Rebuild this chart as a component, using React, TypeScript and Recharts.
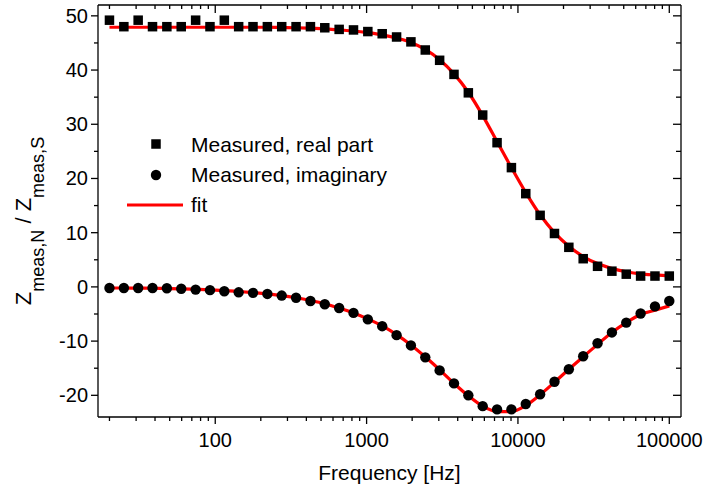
import React from 'react';
import { ComposedChart, XAxis, YAxis, Scatter, Line, ReferenceLine, Customized } from 'recharts';

const FONT = '"Liberation Sans", Arial, sans-serif';

const freq = [20, 24.9, 30.95, 38.5, 47.9, 59.6, 74.2, 92.3, 114.8, 142.8, 177.6, 221, 274.9, 342, 425.6, 529.4, 658.7, 819.4, 1019, 1268, 1578, 1963, 2442, 3038, 3780, 4702, 5850, 7278, 9055, 11265, 14014, 17435, 21691, 26986, 33573, 41768, 51963, 64647, 80428, 100000];

const realPart = [49.2, 48.0, 49.2, 48.0, 48.0, 48.0, 49.2, 48.0, 49.2, 48.0, 48.0, 48.0, 48.0, 48.0, 48.0, 47.8, 47.5, 47.4, 47.1, 46.7, 46.1, 45.2, 43.7, 41.8, 39.2, 35.8, 31.7, 26.6, 22.0, 17.2, 13.2, 9.85, 7.3, 5.2, 3.8, 2.9, 2.35, 2.0, 2.0, 2.0];

const imagPart = [-0.2, -0.2, -0.2, -0.2, -0.25, -0.35, -0.5, -0.6, -0.8, -1.0, -1.1, -1.3, -1.6, -2.0, -2.6, -3.2, -3.9, -4.8, -6.0, -7.25, -8.9, -10.8, -13.0, -15.4, -17.8, -20.0, -22.0, -22.6, -22.6, -21.6, -19.8, -17.5, -15.2, -12.8, -10.4, -8.4, -6.6, -4.9, -3.6, -2.6];

const realFit = [47.9, 47.9, 47.9, 47.9, 47.9, 47.9, 47.9, 47.9, 47.9, 47.9, 47.9, 47.9, 47.85, 47.8, 47.7, 47.6, 47.4, 47.2, 46.9, 46.5, 45.9, 45.1, 43.8, 41.9, 39.3, 35.9, 31.6, 26.8, 22.0, 17.4, 13.3, 10.0, 7.5, 5.6, 4.3, 3.4, 2.8, 2.4, 2.2, 2.05];

const imagFit = [-0.2, -0.2, -0.22, -0.25, -0.3, -0.35, -0.45, -0.55, -0.7, -0.85, -1.05, -1.3, -1.6, -2.0, -2.5, -3.1, -3.9, -4.8, -5.9, -7.2, -8.8, -10.7, -12.9, -15.3, -17.8, -20.1, -22.0, -23.0, -23.0, -21.9, -19.9, -17.6, -15.2, -12.9, -10.6, -8.4, -6.6, -5.1, -4.3, -3.5];

const xMajor = [100, 1000, 10000, 100000];
const xTicks = [20, 30, 40, 50, 60, 70, 80, 90, 100, 200, 300, 400, 500, 600, 700, 800, 900, 1000, 2000, 3000, 4000, 5000, 6000, 7000, 8000, 9000, 10000, 20000, 30000, 40000, 50000, 60000, 70000, 80000, 90000, 100000];
const yMajor = [-20, -10, 0, 10, 20, 30, 40, 50];
const yTicks = [-20, -15, -10, -5, 0, 5, 10, 15, 20, 25, 30, 35, 40, 45, 50];
const xDomain = [16.8, 119500];
const yDomain = [-24, 52];

const legendLabels = ['Measured, real part', 'Measured, imaginary', 'fit'];
const xTitle = 'Frequency [Hz]';

const data = freq.map((f, i) => ({ f, re: realPart[i], im: imagPart[i], reFit: realFit[i], imFit: imagFit[i] }));

const W = 707;
const H = 495;
const X_AXIS_H = 78;
const Y_AXIS_W = 98;
const MARGIN = { top: 5, right: 26, bottom: 0, left: 0 };
const PLOT_TOP = MARGIN.top;
const PLOT_RIGHT = W - MARGIN.right;

const AX = '#000';
const AXW = 1.3;

/* ---------- main chart pieces ---------- */
const BottomTick = (p: any) => {
  const { x, y, payload } = p;
  const major = xMajor.includes(payload.value);
  return (
    <g>
      <line x1={x} x2={x} y1={y} y2={y + (major ? 7 : 4)} stroke={AX} strokeWidth={AXW} />
      {major ? (
        <text x={x} y={y + 30} textAnchor="middle" fontSize={20} fontFamily={FONT} fill="#000">{payload.value}</text>
      ) : null}
    </g>
  );
};

const LeftTick = (p: any) => {
  const { x, y, payload } = p;
  const major = yMajor.includes(payload.value);
  return (
    <g>
      <line x1={x - (major ? 7 : 4)} x2={x} y1={y} y2={y} stroke={AX} strokeWidth={AXW} />
      {major ? (
        <text x={x - 10} y={y + 7} textAnchor="end" fontSize={20} fontFamily={FONT} fill="#000">{payload.value}</text>
      ) : null}
    </g>
  );
};

const SquareShape = (p: any) => {
  const { cx, cy } = p;
  if (cx == null || cy == null) return <g />;
  return <rect x={cx - 4.75} y={cy - 4.75} width={9.5} height={9.5} fill="#000" />;
};

const CircleShape = (p: any) => {
  const { cx, cy } = p;
  if (cx == null || cy == null) return <g />;
  return <circle cx={cx} cy={cy} r={5.2} fill="#000" />;
};

const XTitle = (p: any) => {
  const vb = p.viewBox || { x: 98, y: 417, width: 583, height: 78 };
  return (
    <text x={vb.x + vb.width / 2} y={vb.y + 63} textAnchor="middle" fontSize={21} fontFamily={FONT} fill="#000">{xTitle}</text>
  );
};

const Overlay = () => (
  <g>
    <text x={31} y={221} transform="rotate(-90, 31, 221)" textAnchor="middle" fontFamily={FONT} fill="#000">
      <tspan fontSize={22}>Z</tspan>
      <tspan fontSize={18} dy={13}>meas,N</tspan>
      <tspan fontSize={22} dy={-13}> / </tspan>
      <tspan fontSize={22}>Z</tspan>
      <tspan fontSize={18} dy={13}>meas,S</tspan>
    </text>
    <rect x={156 - 4.75} y={144 - 4.75} width={9.5} height={9.5} fill="#000" />
    <text x={191} y={152} fontSize={21} fontFamily={FONT} fill="#000">{legendLabels[0]}</text>
    <circle cx={156} cy={175} r={5.2} fill="#000" />
    <text x={191} y={182} fontSize={21} fontFamily={FONT} fill="#000">{legendLabels[1]}</text>
    <line x1={127} x2={183} y1={205} y2={205} stroke="#ff0000" strokeWidth={3.2} />
    <text x={191} y={212} fontSize={21} fontFamily={FONT} fill="#000">{legendLabels[2]}</text>
  </g>
);

/* ---------- mirror (top / right) frame chart pieces ---------- */
const TopTick = (p: any) => {
  const { x, payload } = p;
  const major = xMajor.includes(payload.value);
  return <line x1={x} x2={x} y1={PLOT_TOP} y2={PLOT_TOP + (major ? 8 : 4)} stroke={AX} strokeWidth={AXW} />;
};

const RightTick = (p: any) => {
  const { y, payload } = p;
  const major = yMajor.includes(payload.value);
  return <line x1={PLOT_RIGHT - (major ? 8 : 5)} x2={PLOT_RIGHT} y1={y} y2={y} stroke={AX} strokeWidth={AXW} />;
};

const Nothing = () => <g />;

export default function App() {
  return (
    <div style={{ position: 'absolute', left: 0, top: 0, width: W, height: H, background: '#fff' }}>
      <div style={{ position: 'absolute', left: 0, top: 0, width: W, height: H }}>
        <ComposedChart width={W} height={H} data={data} margin={MARGIN}>
          <XAxis
            dataKey="f"
            type="number"
            scale="log"
            domain={xDomain}
            allowDataOverflow
            ticks={xTicks}
            interval={0}
            tickSize={0}
            tickMargin={0}
            height={X_AXIS_H}
            tick={<BottomTick />}
            axisLine={{ stroke: AX, strokeWidth: AXW }}
            tickLine={false}
            label={<XTitle />}
          />
          <YAxis
            type="number"
            domain={yDomain}
            allowDataOverflow
            ticks={yTicks}
            interval={0}
            tickSize={0}
            tickMargin={0}
            width={Y_AXIS_W}
            tick={<LeftTick />}
            axisLine={{ stroke: AX, strokeWidth: AXW }}
            tickLine={false}
          />
          <Scatter dataKey="re" shape={<SquareShape />} isAnimationActive={false} />
          <Scatter dataKey="im" shape={<CircleShape />} isAnimationActive={false} />
          <Line dataKey="reFit" type="monotone" stroke="#ff0000" strokeWidth={3.2} dot={false} activeDot={false} isAnimationActive={false} />
          <Line dataKey="imFit" type="monotone" stroke="#ff0000" strokeWidth={3.2} dot={false} activeDot={false} isAnimationActive={false} />
          <Customized component={Overlay} />
        </ComposedChart>
      </div>
      <div style={{ position: 'absolute', left: 0, top: 0, width: W, height: H, pointerEvents: 'none' }}>
        <ComposedChart width={W} height={H} data={data} margin={MARGIN}>
          <XAxis
            dataKey="f"
            type="number"
            scale="log"
            domain={xDomain}
            allowDataOverflow
            ticks={xTicks}
            interval={0}
            tickSize={0}
            tickMargin={0}
            height={X_AXIS_H}
            tick={<TopTick />}
            axisLine={false}
            tickLine={false}
          />
          <YAxis
            type="number"
            domain={yDomain}
            allowDataOverflow
            ticks={yTicks}
            interval={0}
            tickSize={0}
            tickMargin={0}
            width={Y_AXIS_W}
            tick={<RightTick />}
            axisLine={false}
            tickLine={false}
          />
          <ReferenceLine y={yDomain[1]} stroke={AX} strokeWidth={AXW} ifOverflow="visible" />
          <ReferenceLine x={xDomain[1]} stroke={AX} strokeWidth={AXW} ifOverflow="visible" />
          <Scatter dataKey="re" shape={<Nothing />} isAnimationActive={false} />
        </ComposedChart>
      </div>
    </div>
  );
}
